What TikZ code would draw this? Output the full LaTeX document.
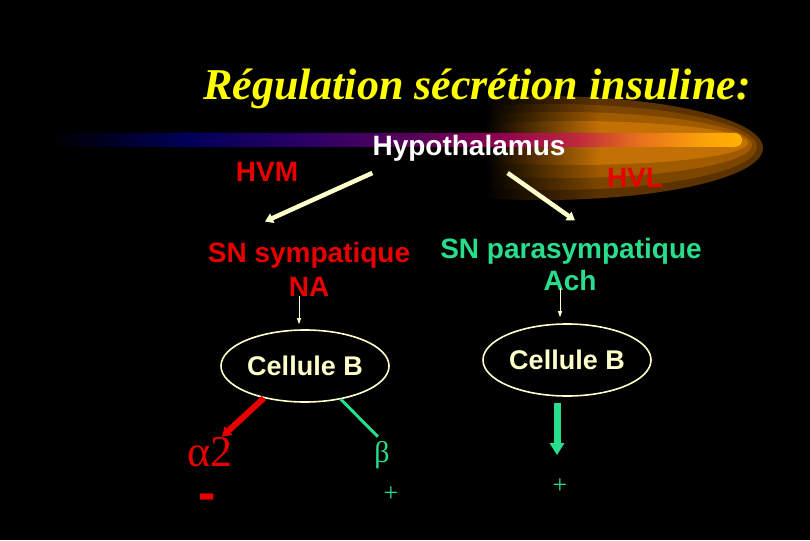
\documentclass[tikz,border=0pt]{standalone}
\usepackage{fontspec}
\setmainfont{Liberation Serif}
\setsansfont{Liberation Sans}
\usetikzlibrary{shapes.geometric, arrows.meta, positioning}

\definecolor{slidered}{RGB}{232,0,0}
\definecolor{slidegreen}{RGB}{40,222,140}
\definecolor{slidecream}{RGB}{255,255,204}
\definecolor{slideyellow}{RGB}{255,255,0}
% comet bands
\definecolor{cometA}{RGB}{92,50,0}
\definecolor{cometB}{RGB}{125,70,0}
\definecolor{cometC}{RGB}{160,90,0}
\definecolor{cometD}{RGB}{195,112,5}
% bar colours
\definecolor{barA}{RGB}{0,0,30}
\definecolor{barB}{RGB}{0,0,90}
\definecolor{barC}{RGB}{40,0,100}
\definecolor{barD}{RGB}{90,0,90}
\definecolor{barE}{RGB}{140,0,80}
\definecolor{barF}{RGB}{190,40,60}
\definecolor{barG}{RGB}{230,110,30}
\definecolor{barH}{RGB}{250,160,10}
\definecolor{barI}{RGB}{255,178,0}
\pgfdeclarehorizontalshading{hypobar}{100bp}{color(0bp)=(black); color(25bp)=(black);
  color(28.6bp)=(barA); color(35bp)=(barB); color(43bp)=(barC); color(51.6bp)=(barD);
  color(57.4bp)=(barE); color(63bp)=(barF); color(67.4bp)=(barG); color(72bp)=(barH);
  color(75bp)=(barI); color(100bp)=(barI)}

\begin{document}
\begin{tikzpicture}[
    x=1pt, y=-1pt,
    sanstext/.style={
        font=\sffamily\bfseries\fontsize{28}{32}\selectfont,
        inner sep=0pt,
        anchor=base
    },
    serifsign/.style={inner sep=0pt, anchor=base},
    cellbox/.style={
        ellipse,
        draw=slidecream,
        line width=1.6pt,
        minimum width=168pt,
        minimum height=72pt,
        inner sep=0pt,
        text=slidecream,
        font=\sffamily\bfseries\fontsize{27}{32}\selectfont
    },
    bigarrow/.style={-{Triangle[width=10pt,length=8pt]}, line width=4.5pt, draw=slidecream},
    thinarrow/.style={-{Triangle[width=4pt,length=6pt]}, line width=0.8pt, draw=slidecream},
    redarrow/.style={-{Triangle[width=11pt,length=9pt]}, line width=6pt, draw=slidered},
    greenline/.style={line width=3pt, draw=slidegreen},
    greenarrow/.style={-{Triangle[width=14pt,length=12pt]}, line width=7pt, draw=slidegreen}
]

\fill[black] (0,0) rectangle (810,540);
\useasboundingbox (0,0) rectangle (810,540);

% comet glow behind the bar
\foreach \cx/\cy/\rx/\ry/\bc in {543/148/220/52/cometA, 552/147/205/43/cometB,
                                 562/145/190/33/cometC, 573/143/175/22/cometD} {
  \begin{scope}
    \clip (\cx,\cy) ellipse [x radius=\rx, y radius=\ry];
    \shade[left color=black, right color=\bc] (485,60) rectangle (600,220);
    \fill[\bc] (600,60) rectangle (800,220);
  \end{scope}
}
\shade[shading=hypobar, rounded corners=7pt] (50,133) rectangle (742,147);

\node[font=\bfseries\itshape\fontsize{44}{50}\selectfont, text=slideyellow,
      inner sep=0pt, anchor=base] (title) at (477,100) {Régulation sécrétion insuline:};

\node[sanstext, text=white] (hypo) at (469,156) {Hypothalamus};
\node[sanstext, text=slidered] (hvm) at (267,181) {HVM};
\node[sanstext, text=slidered] (hvl) at (635,187) {HVL};

\node[sanstext, text=slidered] (symp) at (309,262) {SN sympatique};
\node[sanstext, text=slidered] (na) at (309,296) {NA};
\node[sanstext, text=slidegreen] (para) at (571,258) {SN parasympatique};
\node[sanstext, text=slidegreen] (ach) at (570,290) {Ach};

\node[cellbox] (cellA) at (305,366) {Cellule B};
\node[cellbox] (cellB) at (567,360) {Cellule B};

\node[serifsign, text=slidered, font=\fontsize{44}{48}\selectfont] (alpha) at (210,466) {α2};
\node[serifsign, text=slidered, font=\sffamily\bfseries\fontsize{52}{56}\selectfont] (minus) at (207,510) {-};
\node[serifsign, text=slidegreen, font=\fontsize{30}{34}\selectfont] (beta) at (382,462) {β};
\node[serifsign, text=slidegreen, font=\fontsize{26}{30}\selectfont] (plusA) at (391,501) {+};
\node[serifsign, text=slidegreen, font=\fontsize{26}{30}\selectfont] (plusB) at (560,493) {+};

\draw[bigarrow] ([yshift=-11pt]hypo.south west) -- ([xshift=-44pt,yshift=20pt]symp.north);
\draw[bigarrow] ([xshift=-58pt,yshift=-11pt]hypo.south east) -- ([xshift=4pt,yshift=17pt]para.north);

\draw[thinarrow] ([xshift=-10pt]na.south) -- ([xshift=-6pt,yshift=5pt]cellA.north);
\draw[thinarrow] ([xshift=-10pt,yshift=2pt]ach.south) -- ([xshift=-7pt,yshift=6pt]cellB.north);

\draw[redarrow] (cellA.218) -- ([xshift=12pt]alpha.north);
\draw[greenline] (cellA.-43) -- ([xshift=-4pt,yshift=4pt]beta.north);
\draw[greenarrow] ([xshift=-10pt,yshift=-6pt]cellB.south) -- ([xshift=-3pt,yshift=23pt]plusB.north);

\end{tikzpicture}
\end{document}
